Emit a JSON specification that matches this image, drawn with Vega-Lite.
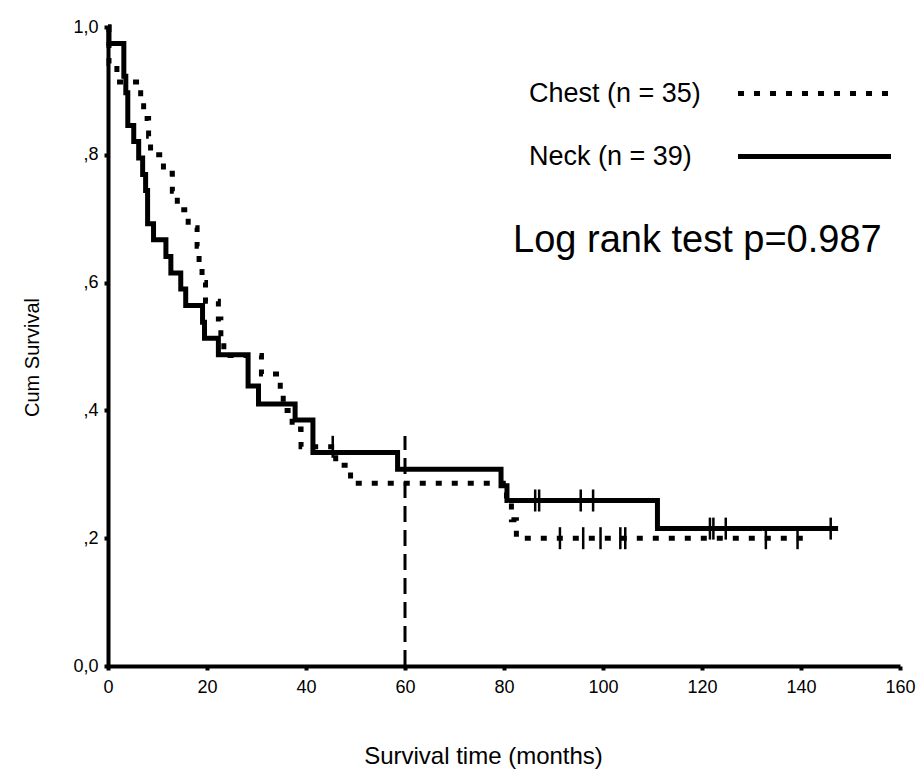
{
  "$schema": "https://vega.github.io/schema/vega-lite/v6.json",
  "autosize": "none",
  "width": 792,
  "height": 639,
  "padding": {"left": 108, "top": 27, "right": 18, "bottom": 106},
  "background": "white",
  "config": {
    "view": {"stroke": null},
    "font": "Liberation Sans",
    "axis": {
      "domainColor": "black", "domainWidth": 4, "tickColor": "black", "tickWidth": 4, "tickSize": 4,
      "labelColor": "black", "labelFont": "Liberation Sans", "labelFontSize": 18, "labelFlush": false,
      "titleColor": "black", "titleFont": "Liberation Sans", "titleFontWeight": "normal", "grid": false
    },
    "legend": {
      "orient": "none", "legendX": 693, "legendY": 53, "title": null,
      "symbolType": "M-10,0H10", "symbolSize": 234, "symbolStrokeWidth": 5, "symbolStrokeColor": "black",
      "labelFont": "Liberation Sans", "labelFontSize": 27, "labelColor": "black", "labelAlign": "left",
      "labelOffset": -299, "labelLimit": 0, "rowPadding": 35
    }
  },
  "datasets": {
    "curves": [
      {"group": "Chest (n = 35)", "t": 0, "s": 1.0},
      {"group": "Chest (n = 35)", "t": 0.2, "s": 0.943},
      {"group": "Chest (n = 35)", "t": 1.8, "s": 0.914},
      {"group": "Chest (n = 35)", "t": 6.6, "s": 0.886},
      {"group": "Chest (n = 35)", "t": 7.2, "s": 0.857},
      {"group": "Chest (n = 35)", "t": 8.2, "s": 0.829},
      {"group": "Chest (n = 35)", "t": 8.6, "s": 0.8},
      {"group": "Chest (n = 35)", "t": 11.2, "s": 0.771},
      {"group": "Chest (n = 35)", "t": 13.0, "s": 0.743},
      {"group": "Chest (n = 35)", "t": 14.0, "s": 0.714},
      {"group": "Chest (n = 35)", "t": 16.2, "s": 0.686},
      {"group": "Chest (n = 35)", "t": 18.0, "s": 0.657},
      {"group": "Chest (n = 35)", "t": 18.4, "s": 0.629},
      {"group": "Chest (n = 35)", "t": 19.0, "s": 0.6},
      {"group": "Chest (n = 35)", "t": 19.7, "s": 0.571},
      {"group": "Chest (n = 35)", "t": 22.3, "s": 0.543},
      {"group": "Chest (n = 35)", "t": 22.8, "s": 0.514},
      {"group": "Chest (n = 35)", "t": 23.4, "s": 0.486},
      {"group": "Chest (n = 35)", "t": 31.0, "s": 0.457},
      {"group": "Chest (n = 35)", "t": 34.8, "s": 0.429},
      {"group": "Chest (n = 35)", "t": 35.4, "s": 0.4},
      {"group": "Chest (n = 35)", "t": 37.2, "s": 0.371},
      {"group": "Chest (n = 35)", "t": 39.0, "s": 0.343},
      {"group": "Chest (n = 35)", "t": 46.0, "s": 0.314},
      {"group": "Chest (n = 35)", "t": 49.0, "s": 0.286},
      {"group": "Chest (n = 35)", "t": 80.5, "s": 0.257},
      {"group": "Chest (n = 35)", "t": 81.5, "s": 0.229},
      {"group": "Chest (n = 35)", "t": 82.5, "s": 0.2},
      {"group": "Chest (n = 35)", "t": 141.7, "s": 0.2},
      {"group": "Neck (n = 39)", "t": 0, "s": 1.0},
      {"group": "Neck (n = 39)", "t": 0.2, "s": 0.974},
      {"group": "Neck (n = 39)", "t": 3.2, "s": 0.923},
      {"group": "Neck (n = 39)", "t": 3.6, "s": 0.897},
      {"group": "Neck (n = 39)", "t": 4.0, "s": 0.846},
      {"group": "Neck (n = 39)", "t": 5.2, "s": 0.821},
      {"group": "Neck (n = 39)", "t": 6.2, "s": 0.795},
      {"group": "Neck (n = 39)", "t": 7.0, "s": 0.769},
      {"group": "Neck (n = 39)", "t": 7.6, "s": 0.744},
      {"group": "Neck (n = 39)", "t": 8.0, "s": 0.692},
      {"group": "Neck (n = 39)", "t": 9.2, "s": 0.667},
      {"group": "Neck (n = 39)", "t": 11.7, "s": 0.641},
      {"group": "Neck (n = 39)", "t": 12.7, "s": 0.615},
      {"group": "Neck (n = 39)", "t": 14.7, "s": 0.59},
      {"group": "Neck (n = 39)", "t": 15.7, "s": 0.564},
      {"group": "Neck (n = 39)", "t": 19.1, "s": 0.538},
      {"group": "Neck (n = 39)", "t": 19.5, "s": 0.513},
      {"group": "Neck (n = 39)", "t": 22.3, "s": 0.487},
      {"group": "Neck (n = 39)", "t": 28.3, "s": 0.438},
      {"group": "Neck (n = 39)", "t": 30.4, "s": 0.41},
      {"group": "Neck (n = 39)", "t": 37.8, "s": 0.385},
      {"group": "Neck (n = 39)", "t": 41.4, "s": 0.334},
      {"group": "Neck (n = 39)", "t": 58.5, "s": 0.308},
      {"group": "Neck (n = 39)", "t": 79.4, "s": 0.282},
      {"group": "Neck (n = 39)", "t": 80.6, "s": 0.259},
      {"group": "Neck (n = 39)", "t": 111.0, "s": 0.215},
      {"group": "Neck (n = 39)", "t": 147.5, "s": 0.215}
    ],
    "censored": [
      {"group": "Chest (n = 35)", "t": 45.4, "s": 0.343},
      {"group": "Chest (n = 35)", "t": 91.3, "s": 0.2},
      {"group": "Chest (n = 35)", "t": 96.0, "s": 0.2},
      {"group": "Chest (n = 35)", "t": 99.5, "s": 0.2},
      {"group": "Chest (n = 35)", "t": 103.5, "s": 0.2},
      {"group": "Chest (n = 35)", "t": 104.5, "s": 0.2},
      {"group": "Chest (n = 35)", "t": 132.9, "s": 0.2},
      {"group": "Chest (n = 35)", "t": 139.3, "s": 0.2},
      {"group": "Neck (n = 39)", "t": 86.3, "s": 0.259},
      {"group": "Neck (n = 39)", "t": 87.1, "s": 0.259},
      {"group": "Neck (n = 39)", "t": 95.5, "s": 0.259},
      {"group": "Neck (n = 39)", "t": 98.0, "s": 0.259},
      {"group": "Neck (n = 39)", "t": 121.6, "s": 0.215},
      {"group": "Neck (n = 39)", "t": 122.3, "s": 0.215},
      {"group": "Neck (n = 39)", "t": 124.8, "s": 0.215},
      {"group": "Neck (n = 39)", "t": 146.0, "s": 0.215}
    ],
    "one": [{}]
  },
  "layer": [
    {
      "data": {"name": "one"},
      "mark": {"type": "rule", "strokeDash": [16, 8], "strokeWidth": 3, "color": "black"},
      "encoding": {
        "x": {"datum": 60, "type": "quantitative"},
        "y": {"datum": 0, "type": "quantitative"},
        "y2": {"datum": 0.36}
      }
    },
    {
      "data": {"name": "curves"},
      "mark": {"type": "line", "interpolate": "step-after", "strokeWidth": 5, "color": "black", "strokeCap": "butt"},
      "encoding": {
        "x": {"field": "t", "type": "quantitative", "scale": {"domain": [0, 160], "nice": false},
          "axis": {"values": [0, 20, 40, 60, 80, 100, 120, 140, 160], "title": "Survival time (months)", "titleFontSize": 24,
            "labelPadding": 8, "titleX": 375, "titleY": 90, "titleBaseline": "middle"}},
        "y": {"field": "s", "type": "quantitative", "scale": {"domain": [0, 1], "nice": false},
          "axis": {"values": [0, 0.2, 0.4, 0.6, 0.8, 1.0], "title": "Cum Survival", "titleFontSize": 20,
            "labelPadding": 6,
            "labelExpr": "datum.value == 0 ? '0,0' : datum.value == 1 ? '1,0' : ',' + round(datum.value * 10)",
            "titleX": -76, "titleY": 330, "titleBaseline": "middle"}},
        "strokeDash": {"field": "group", "type": "nominal",
          "scale": {"domain": ["Chest (n = 35)", "Neck (n = 39)"], "range": [[6, 10], [1, 0]]}},
        "order": {"field": "t", "type": "quantitative"}
      }
    },
    {
      "data": {"name": "censored"},
      "mark": {"type": "tick", "orient": "vertical", "size": 22, "thickness": 2.5, "color": "black", "opacity": 1},
      "encoding": {
        "x": {"field": "t", "type": "quantitative"},
        "y": {"field": "s", "type": "quantitative"}
      }
    },
    {
      "data": {"name": "one"},
      "mark": {"type": "text", "align": "right", "baseline": "alphabetic", "fontSize": 38, "color": "black", "font": "Liberation Sans"},
      "encoding": {
        "x": {"datum": 156.3, "type": "quantitative"},
        "y": {"datum": 0.648, "type": "quantitative"},
        "text": {"value": "Log rank test p=0.987"}
      }
    }
  ]
}
